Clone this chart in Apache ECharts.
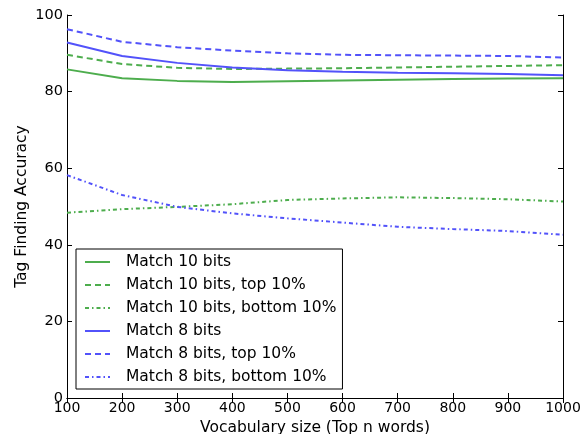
<!DOCTYPE html>
<html>
<head>
<meta charset="utf-8">
<script src="https://cdn.jsdelivr.net/npm/echarts@6/dist/echarts.min.js"></script>
<style>
html, body { margin: 0; padding: 0; background: #fff; }
#chart { width: 585px; height: 434px; }
</style>
</head>
<body>
<div id="chart"></div>
<script>
// 词汇量 (Top n words)
const vocabSizes = [100, 200, 300, 400, 500, 600, 700, 800, 900, 1000]
const match10 = [85.8, 83.5, 82.8, 82.5, 82.7, 82.9, 83.1, 83.3, 83.4, 83.5]
const match10Top = [89.6, 87.2, 86.2, 85.9, 86.0, 86.1, 86.3, 86.5, 86.7, 86.9]
const match10Bottom = [48.4, 49.3, 49.9, 50.6, 51.7, 52.1, 52.4, 52.2, 51.9, 51.3]
const match8 = [92.8, 89.3, 87.5, 86.3, 85.6, 85.2, 84.9, 84.8, 84.6, 84.3]
const match8Top = [96.3, 93.0, 91.6, 90.7, 90.0, 89.6, 89.5, 89.4, 89.3, 88.9]
const match8Bottom = [58.2, 53.0, 49.9, 48.2, 46.9, 45.8, 44.7, 44.1, 43.6, 42.6]

const green = '#4dad4d'
const blue = '#5252fa'
const font = 'DejaVu Sans'

const chart = echarts.init(document.getElementById('chart'))

function makeSeries (name, values, color, type) {
    return {
        name: name,
        type: 'line',
        symbol: 'none',
        data: vocabSizes.map((x, i) => [x, values[i]]),
        lineStyle: { color: color, width: 2, type: type },
        itemStyle: { color: color },
        emphasis: { disabled: true }
    }
}

const dashed = [6, 4]
const dashDot = [4, 3, 1.5, 3]

const axisCommon = {
    axisLine: { lineStyle: { color: '#000', width: 1 } },
    axisTick: { inside: true, length: 5, lineStyle: { color: '#000' } },
    splitLine: { show: false }
}

const option = {
    animation: false,
    textStyle: { fontFamily: font },
    grid: { left: 67, right: 22, top: 15, bottom: 36, outerBoundsMode: 'none', containLabel: false },
    legend: {
        orient: 'vertical',
        left: 76,
        top: 249,
        itemWidth: 25,
        itemHeight: 10,
        itemGap: 7,
        padding: [5, 6, 4, 8],
        backgroundColor: '#fff',
        borderColor: '#000',
        borderWidth: 1,
        itemStyle: { opacity: 0 },
        textStyle: { fontFamily: font, fontSize: 15.5, lineHeight: 16, color: '#000', padding: [0, 0, 0, 11] },
        data: ['Match 10 bits', 'Match 10 bits, top 10%', 'Match 10 bits, bottom 10%',
            'Match 8 bits', 'Match 8 bits, top 10%', 'Match 8 bits, bottom 10%']
    },
    xAxis: [{
        type: 'value',
        min: 100, max: 1000, interval: 100,
        name: 'Vocabulary size (Top n words)',
        nameLocation: 'middle',
        nameGap: 19,
        nameTextStyle: { fontFamily: font, fontSize: 15.5, color: '#000' },
        axisLabel: { fontFamily: font, fontSize: 14, color: '#000', margin: 3, formatter: v => String(v) },
        ...axisCommon
    }, {
        type: 'value', position: 'top',
        min: 100, max: 1000, interval: 100,
        axisLabel: { show: false },
        ...axisCommon
    }],
    yAxis: [{
        type: 'value',
        min: 0, max: 100, interval: 20,
        name: 'Tag Finding Accuracy',
        nameLocation: 'middle',
        nameGap: 37,
        nameMoveOverlap: false,
        nameTextStyle: { fontFamily: font, fontSize: 15.5, color: '#000' },
        axisLabel: { fontFamily: font, fontSize: 14.5, color: '#000', margin: 4 },
        ...axisCommon
    }, {
        type: 'value', position: 'right',
        min: 0, max: 100, interval: 20,
        axisLabel: { show: false },
        ...axisCommon
    }],
    series: [
        makeSeries('Match 10 bits', match10, green, 'solid'),
        makeSeries('Match 10 bits, top 10%', match10Top, green, dashed),
        makeSeries('Match 10 bits, bottom 10%', match10Bottom, green, dashDot),
        makeSeries('Match 8 bits', match8, blue, 'solid'),
        makeSeries('Match 8 bits, top 10%', match8Top, blue, dashed),
        makeSeries('Match 8 bits, bottom 10%', match8Bottom, blue, dashDot)
    ]
}
chart.setOption(option)
</script>
</body>
</html>
